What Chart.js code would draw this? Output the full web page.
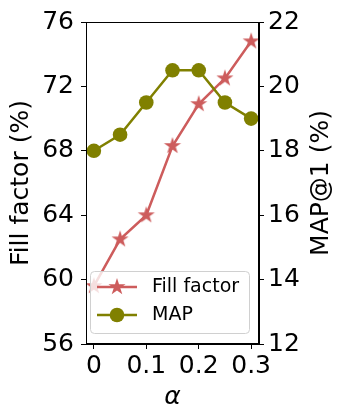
<!DOCTYPE html>
<html>
<head>
<meta charset="utf-8">
<script src="https://cdn.jsdelivr.net/npm/chart.js@4.4.0/dist/chart.umd.min.js"></script>
<style>
  html, body { margin: 0; padding: 0; background: #fff; }
  canvas { display: block; }
</style>
</head>
<body>
<canvas id="chart" width="338" height="415"></canvas>
<script>
const alphas = [0, 0.05, 0.1, 0.15, 0.2, 0.25, 0.3];
const fillFactor = [59.6, 62.5, 64.0, 68.3, 70.9, 72.5, 74.8];
const mapAt1 = [18.0, 18.5, 19.5, 20.5, 20.5, 19.5, 19.0];
const xTicks = [0, 0.1, 0.2, 0.3];
const leftTicks = [56, 60, 64, 68, 72, 76];
const rightTicks = [12, 14, 16, 18, 20, 22];
const seriesNames = ["Fill factor", "MAP"];
const rightTitle = "MAP@1 (%)";

const RED = "#cd5c5c";
const OLIVE = "#808000";
const FONT = "'DejaVu Sans', sans-serif";

// filled 5-point star like matplotlib's "*"
function makeStar(r, color) {
  const c = document.createElement("canvas");
  const s = Math.ceil(r * 2 + 2);
  c.width = s;
  c.height = s;
  const g = c.getContext("2d");
  g.translate(s / 2, s / 2);
  g.beginPath();
  for (let i = 0; i < 10; i++) {
    const rad = i % 2 === 0 ? r : r * 0.382;
    const a = -Math.PI / 2 + i * Math.PI / 5;
    g.lineTo(rad * Math.cos(a), rad * Math.sin(a));
  }
  g.closePath();
  g.fillStyle = color;
  g.fill();
  return c;
}
const starImg = makeStar(9, RED);

const frame = {
  id: "frame",
  afterDatasetsDraw(chart) {
    const { ctx, chartArea: a } = chart;
    ctx.save();
    ctx.strokeStyle = "#000";
    ctx.lineWidth = 1;
    ctx.strokeRect(a.left + 0.5, a.top + 0.5, a.right - a.left - 1, a.bottom - a.top - 1);
    ctx.restore();
  }
};

// right axis title reads bottom-to-top, like matplotlib's twinx label
const rightLabel = {
  id: "rightLabel",
  afterDraw(chart) {
    const { ctx, chartArea: a } = chart;
    ctx.save();
    ctx.translate(321, (a.top + a.bottom) / 2);
    ctx.rotate(-Math.PI / 2);
    ctx.fillStyle = "#000";
    ctx.font = "25px " + FONT;
    ctx.textAlign = "center";
    ctx.textBaseline = "middle";
    ctx.fillText(rightTitle, 0, 0);
    ctx.restore();
  }
};

const legendBox = {
  id: "legendBox",
  afterDraw(chart) {
    const { ctx, chartArea: a } = chart;
    const x = a.left + 4, y = a.bottom - 73, w = 159, h = 62, r = 4;
    ctx.save();
    ctx.beginPath();
    ctx.roundRect(x + 0.5, y + 0.5, w, h, r);
    ctx.fillStyle = "rgba(255,255,255,0.8)";
    ctx.fill();
    ctx.strokeStyle = "#d0d0d0";
    ctx.lineWidth = 1;
    ctx.stroke();

    const rows = [
      { name: seriesNames[0], color: RED, star: true },
      { name: seriesNames[1], color: OLIVE, star: false }
    ];
    rows.forEach((row, i) => {
      const cy = y + 16 + i * 28;
      ctx.strokeStyle = row.color;
      ctx.lineWidth = 2.5;
      ctx.beginPath();
      ctx.moveTo(x + 7, cy);
      ctx.lineTo(x + 47, cy);
      ctx.stroke();
      if (row.star) {
        ctx.drawImage(starImg, x + 27 - starImg.width / 2, cy - starImg.height / 2);
      } else {
        ctx.beginPath();
        ctx.arc(x + 27, cy, 7.3, 0, Math.PI * 2);
        ctx.fillStyle = row.color;
        ctx.fill();
      }
      ctx.fillStyle = "#000";
      ctx.font = "19px " + FONT;
      ctx.textBaseline = "middle";
      ctx.textAlign = "left";
      ctx.fillText(row.name, x + 62, cy);
    });
    ctx.restore();
  }
};

const tickFont = { family: FONT, size: 25 };

new Chart(document.getElementById("chart"), {
  type: "line",
  data: {
    datasets: [
      {
        label: seriesNames[1],
        data: alphas.map((a, i) => ({ x: a, y: mapAt1[i] })),
        yAxisID: "y1",
        borderColor: OLIVE,
        backgroundColor: OLIVE,
        borderWidth: 2.5,
        pointStyle: "circle",
        pointRadius: 7.3,
        pointBorderWidth: 0,
        tension: 0,
        order: 0
      },
      {
        label: seriesNames[0],
        data: alphas.map((a, i) => ({ x: a, y: fillFactor[i] })),
        yAxisID: "y",
        borderColor: RED,
        backgroundColor: RED,
        borderWidth: 2.5,
        pointStyle: starImg,
        pointRadius: 9,
        tension: 0,
        order: 1
      }
    ]
  },
  options: {
    responsive: false,
    animation: false,
    layout: { padding: { top: 16, left: 0, right: 0, bottom: 0 } },
    plugins: { legend: { display: false }, tooltip: { enabled: false } },
    scales: {
      x: {
        type: "linear",
        min: -0.015,
        max: 0.315,
        afterBuildTicks: s => { s.ticks = xTicks.map(v => ({ value: v })); },
        afterFit: s => { s.height = 71; },
        grid: { drawOnChartArea: false, tickLength: 5, color: "#000" },
        border: { color: "#000" },
        ticks: { color: "#000", font: tickFont, padding: 2, maxRotation: 0, callback: v => String(v) },
        title: {
          display: true, text: "α", color: "#000",
          font: { family: FONT, size: 25, style: "italic" },
          padding: { top: 0, bottom: 3 }
        }
      },
      y: {
        position: "left",
        min: 56,
        max: 76,
        afterBuildTicks: s => { s.ticks = leftTicks.map(v => ({ value: v })); },
        afterFit: s => { s.width = 86; },
        grid: { drawOnChartArea: false, tickLength: 5, color: "#000" },
        border: { color: "#000" },
        ticks: { color: "#000", font: tickFont, padding: 7 },
        title: {
          display: true, text: "Fill factor (%)", color: "#000",
          font: tickFont, padding: { top: 6, bottom: 0 }
        }
      },
      y1: {
        position: "right",
        min: 12,
        max: 22,
        afterBuildTicks: s => { s.ticks = rightTicks.map(v => ({ value: v })); },
        afterFit: s => { s.width = 79; },
        grid: { drawOnChartArea: false, tickLength: 5, color: "#000" },
        border: { color: "#000" },
        ticks: { color: "#000", font: tickFont, padding: 4 }
      }
    }
  },
  plugins: [frame, rightLabel, legendBox]
});
</script>
</body>
</html>
